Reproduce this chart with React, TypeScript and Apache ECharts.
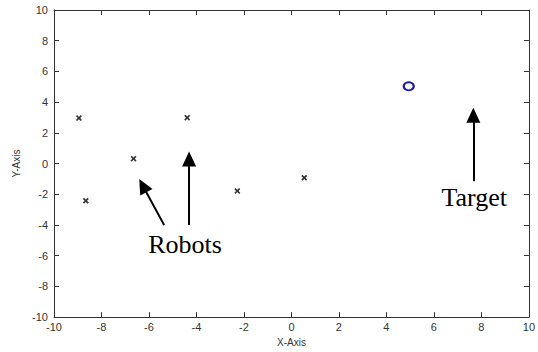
import React, { useEffect, useRef } from "react";
import * as echarts from "echarts";

const xTicks = [-10, -8, -6, -4, -2, 0, 2, 4, 6, 8, 10];
const robotsX = [-8.95, -8.66, -6.65, -4.39, -2.28, 0.54];
const robotsY = [2.96, -2.42, 0.32, 2.99, -1.78, -0.92];
const targetX = [4.94];
const targetY = [5.03];
const arrowFrom = [[-5.36, -4.01], [-4.31, -4.01], [7.66, -1.15]];
const arrowTo = [[-6.26, -1.44], [-4.31, 0.29], [7.66, 3.15]];
const noteTexts = ["Robots", "Target"];
const notePos = [[-4.48, -5.27], [7.7, -2.21]];

const CROSS = "path://M0,2L2,0L5,3L8,0L10,2L7,5L10,8L8,10L5,7L2,10L0,8L3,5Z";

export default function App() {
  const ref = useRef<HTMLDivElement>(null);
  useEffect(() => {
    const chart = echarts.init(ref.current!, null, { renderer: "svg" });
    const axisCommon = {
      type: "value" as const,
      min: xTicks[0],
      max: xTicks[xTicks.length - 1],
      interval: 2,
      splitLine: { show: false },
      axisLine: { show: true, onZero: false, lineStyle: { color: "#333", width: 1 } },
      axisTick: { show: true, inside: true, length: 5, lineStyle: { color: "#333" } },
    };
    const labelStyle = { color: "#333", fontSize: 11, fontFamily: "Liberation Sans, Arial, sans-serif" };
    chart.setOption({
      animation: false,
      backgroundColor: "#fff",
      grid: { left: 54, right: 6, top: 10, bottom: 28, containLabel: false },
      xAxis: [
        {
          ...axisCommon,
          position: "bottom",
          axisLabel: { ...labelStyle, margin: 4 },
          name: "X-Axis",
          nameLocation: "middle",
          nameGap: 17,
          nameTextStyle: { color: "#333", fontSize: 10, fontFamily: "Liberation Sans, Arial, sans-serif" },
        },
        { ...axisCommon, position: "top", axisLabel: { show: false } },
      ],
      yAxis: [
        {
          ...axisCommon,
          position: "left",
          axisLabel: { ...labelStyle, margin: 6 },
          name: "Y-Axis",
          nameLocation: "middle",
          nameGap: 32,
          nameTextStyle: { color: "#333", fontSize: 10, fontFamily: "Liberation Sans, Arial, sans-serif" },
        },
        { ...axisCommon, position: "right", axisLabel: { show: false } },
      ],
      series: [
        {
          type: "scatter",
          name: "Robots",
          data: robotsX.map((x, i) => [x, robotsY[i]]),
          symbol: CROSS,
          symbolSize: 6,
          itemStyle: { color: "#000" },
          markLine: {
            silent: true,
            symbol: ["none", "triangle"],
            symbolSize: [14, 15],
            lineStyle: { color: "#000", width: 2, type: "solid" },
            label: { show: false },
            data: arrowFrom.map((f, i) => [
              { coord: f, symbol: "none" },
              { coord: arrowTo[i], symbol: "triangle" },
            ]),
          },
          markPoint: {
            silent: true,
            symbol: "circle",
            symbolSize: 1,
            itemStyle: { color: "rgba(0,0,0,0)" },
            label: {
              show: true,
              position: "inside",
              color: "#000",
              fontSize: 26,
              fontFamily: "Liberation Serif, Times New Roman, serif",
              formatter: (p: any) => p.name,
            },
            data: noteTexts.map((t, i) => ({ name: t, coord: notePos[i] })),
          },
        },
        {
          type: "scatter",
          name: "Target",
          data: targetX.map((x, i) => [x, targetY[i]]),
          symbol: "circle",
          symbolSize: [10, 8],
          itemStyle: { color: "rgba(255,255,255,0)", borderColor: "#1c1caa", borderWidth: 2, opacity: 1 },
          z: 5,
        },
      ],
    });
    return () => chart.dispose();
  }, []);
  return <div ref={ref} style={{ width: 538, height: 352, position: "absolute", left: 0, top: 0 }} />;
}
